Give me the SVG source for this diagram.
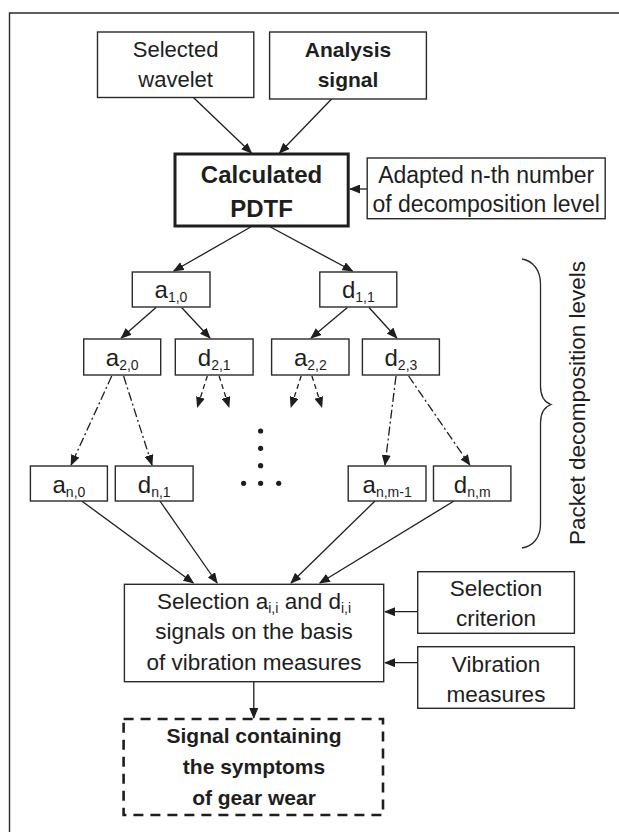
<svg xmlns="http://www.w3.org/2000/svg" width="619" height="832" viewBox="0 0 619 832">
<defs>
<marker id="ah" markerUnits="userSpaceOnUse" markerWidth="11" markerHeight="9" refX="10" refY="4.5" orient="auto">
<path d="M0,0 L11,4.5 L0,9 z" fill="#1e1e1e"/>
</marker>
<style>
.bx{fill:#fff;stroke:#2a2a2a;stroke-width:1.4}
.thick{fill:#fff;stroke:#1e1e1e;stroke-width:3}
.dbx{fill:#fff;stroke:#1e1e1e;stroke-width:2.6;stroke-dasharray:10 7}
.t{font-family:"Liberation Sans",Arial,sans-serif;font-size:22.5px;fill:#1e1e1e;text-anchor:middle}
.b{font-weight:bold}
.n{font-family:"Liberation Sans",Arial,sans-serif;font-size:24px;fill:#1e1e1e;text-anchor:middle}
.s{font-size:14px}
.c{stroke:#1e1e1e;stroke-width:1.3;fill:none;marker-end:url(#ah)}
.dash{stroke-dasharray:5 3.5}
.dd{stroke-dasharray:9 3 2 3}
</style>
</defs>
<path d="M9.5,832 V13 H619" fill="none" stroke="#2a2a2a" stroke-width="1.4"/>

<g id="connectors">
<line class="c" x1="193.4" y1="97.5" x2="251.5" y2="153"/>
<line class="c" x1="331.6" y1="99" x2="279.5" y2="153"/>
<line class="c" x1="367" y1="189" x2="350" y2="189"/>
<line class="c" x1="250.7" y1="227" x2="173.7" y2="271"/>
<line class="c" x1="270.4" y1="227" x2="352.5" y2="271"/>
<line class="c" x1="156" y1="307.5" x2="121.2" y2="338"/>
<line class="c" x1="181.6" y1="307.5" x2="210" y2="338"/>
<line class="c" x1="347.4" y1="307.5" x2="311" y2="338"/>
<line class="c" x1="369" y1="307.5" x2="396.8" y2="338"/>
<line class="c dash" x1="207.3" y1="376" x2="197.4" y2="407"/>
<line class="c dash" x1="219.1" y1="376" x2="229" y2="407"/>
<line class="c dash" x1="301.2" y1="376" x2="291" y2="407"/>
<line class="c dash" x1="311.9" y1="376" x2="321.8" y2="407"/>
<line class="c dd" x1="111.7" y1="376" x2="71.1" y2="465"/>
<line class="c dd" x1="123.6" y1="376" x2="152" y2="465"/>
<line class="c dd" x1="396" y1="376" x2="385" y2="465"/>
<line class="c dd" x1="408.6" y1="376" x2="469.8" y2="465"/>
<line class="c" x1="81.7" y1="501" x2="193.4" y2="583"/>
<line class="c" x1="159.9" y1="501" x2="217.1" y2="583"/>
<line class="c" x1="375" y1="501" x2="291" y2="583"/>
<line class="c" x1="454" y1="501" x2="319.8" y2="583"/>
<line class="c" x1="417.7" y1="611.7" x2="385" y2="611.7"/>
<line class="c" x1="417.7" y1="662.7" x2="385" y2="662.7"/>
<line class="c" x1="253.8" y1="682" x2="253.8" y2="718"/>
</g>

<g id="dots" fill="#1e1e1e">
<circle cx="260.6" cy="431" r="2.6"/>
<circle cx="260.6" cy="448.3" r="2.6"/>
<circle cx="260.6" cy="465.7" r="2.6"/>
<circle cx="243.6" cy="483.3" r="2.6"/>
<circle cx="260.6" cy="483.3" r="2.6"/>
<circle cx="278.7" cy="483.3" r="2.6"/>
</g>

<g id="selected-wavelet">
<rect class="bx" x="97.5" y="32" width="156.3" height="65.5"/>
<text class="t" x="175.6" y="57.3" style="font-size:22px">Selected</text>
<text class="t" x="175.6" y="87.3" style="font-size:22px">wavelet</text>
</g>
<g id="analysis-signal">
<rect class="bx" x="269.6" y="32" width="156.8" height="67"/>
<text class="t b" x="348" y="57" style="font-size:21px">Analysis</text>
<text class="t b" x="348" y="87" style="font-size:21px">signal</text>
</g>
<g id="pdtf">
<rect class="thick" x="175" y="154" width="173.2" height="72"/>
<text class="t b" x="261.5" y="183" style="font-size:24px">Calculated</text>
<text class="t b" x="261.5" y="217" style="font-size:24px">PDTF</text>
</g>
<g id="adapted">
<rect class="bx" x="367.2" y="158" width="238" height="60.7"/>
<text class="t" x="486.2" y="183" style="font-size:23px">Adapted n-th number</text>
<text class="t" x="486.2" y="212" style="font-size:23px">of decomposition level</text>
</g>

<g id="a10"><rect class="bx" x="132.3" y="272" width="77.7" height="35"/>
<text class="n" x="171" y="298">a<tspan class="s" dy="4">1,0</tspan></text></g>
<g id="d11"><rect class="bx" x="319.8" y="272" width="77" height="35"/>
<text class="n" x="358.3" y="298">d<tspan class="s" dy="4">1,1</tspan></text></g>
<g id="a20"><rect class="bx" x="83.7" y="339" width="77" height="36"/>
<text class="n" x="122.2" y="365.5">a<tspan class="s" dy="4">2,0</tspan></text></g>
<g id="d21"><rect class="bx" x="175.3" y="339" width="77.8" height="36"/>
<text class="n" x="214.2" y="365.5">d<tspan class="s" dy="4">2,1</tspan></text></g>
<g id="a22"><rect class="bx" x="271.6" y="339" width="77.4" height="36"/>
<text class="n" x="310.3" y="365.5">a<tspan class="s" dy="4">2,2</tspan></text></g>
<g id="d23"><rect class="bx" x="362.4" y="339" width="77" height="36"/>
<text class="n" x="400.9" y="365.5">d<tspan class="s" dy="4">2,3</tspan></text></g>
<g id="an0"><rect class="bx" x="30.4" y="466" width="77" height="35"/>
<text class="n" x="68.9" y="492.5">a<tspan class="s" dy="4">n,0</tspan></text></g>
<g id="dn1"><rect class="bx" x="115.3" y="466" width="77.8" height="35"/>
<text class="n" x="154.2" y="492.5">d<tspan class="s" dy="4">n,1</tspan></text></g>
<g id="anm1"><rect class="bx" x="348.2" y="466" width="77.8" height="35"/>
<text class="n" x="387.1" y="492.5">a<tspan class="s" dy="4">n,m-1</tspan></text></g>
<g id="dnm"><rect class="bx" x="433.5" y="466" width="77.4" height="35"/>
<text class="n" x="472.2" y="492.5">d<tspan class="s" dy="4">n,m</tspan></text></g>

<g id="brace">
<path d="M522,259 C533,261 540.5,270 540.5,284 L540.5,386 C540.5,397 544,402 551,404.5 C544,407 540.5,412 540.5,423 L540.5,524 C540.5,538 533,546 522,548" fill="none" stroke="#2a2a2a" stroke-width="1.3"/>
<text class="t" transform="translate(585,403) rotate(-90)" x="0" y="0" style="font-size:22.5px">Packet decomposition levels</text>
</g>

<g id="selection">
<rect class="bx" x="124.4" y="584.3" width="259.3" height="97.4"/>
<text class="t" x="254" y="609.3">Selection a<tspan class="s" dy="4">i,i</tspan><tspan dy="-4"> and d</tspan><tspan class="s" dy="4">i,i</tspan></text>
<text class="t" x="254" y="639">signals on the basis</text>
<text class="t" x="254" y="670">of vibration measures</text>
</g>
<g id="selection-criterion">
<rect class="bx" x="417.7" y="571.7" width="156.7" height="61.6"/>
<text class="t" x="496" y="596">Selection</text>
<text class="t" x="496" y="626">criterion</text>
</g>
<g id="vibration-measures">
<rect class="bx" x="417.7" y="646.7" width="156.7" height="61.6"/>
<text class="t" x="496" y="671.7">Vibration</text>
<text class="t" x="496" y="701.7">measures</text>
</g>
<g id="result">
<rect class="dbx" x="123.6" y="719" width="259.4" height="96"/>
<text class="t b" x="254" y="743.3" style="font-size:21px">Signal containing</text>
<text class="t b" x="254" y="774.3" style="font-size:21px">the symptoms</text>
<text class="t b" x="254" y="805" style="font-size:21px">of gear wear</text>
</g>
</svg>
